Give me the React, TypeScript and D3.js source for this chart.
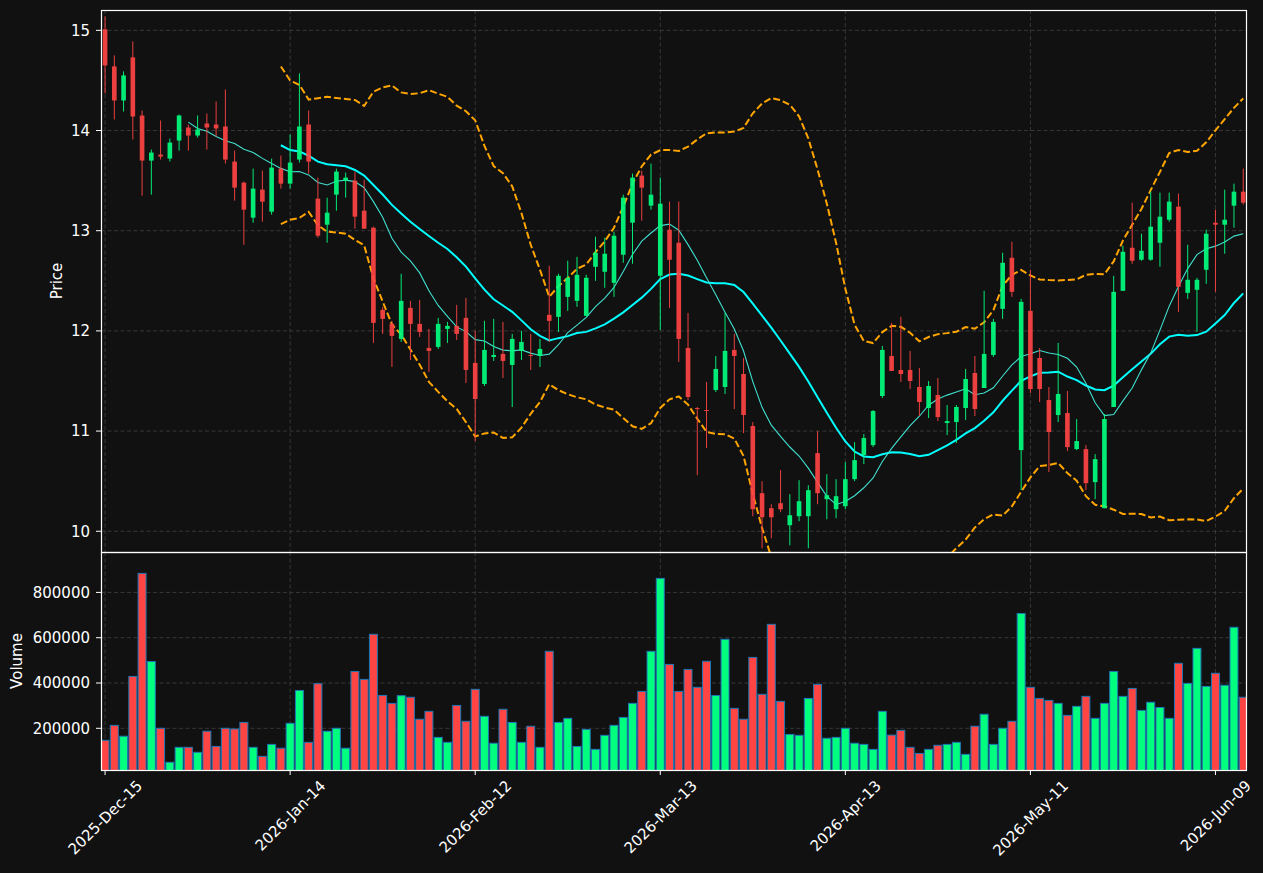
import * as d3 from 'd3';
import React, { useRef, useEffect } from 'react';

const W = 1263;
const H = 873;
const box = { left: 101, right: 1246, top: 10, mid: 552, bottom: 770 };

// OHLC, one entry per trading day
const opens = [
  15.01, 14.64, 14.30, 14.73, 14.15, 13.70, 13.76, 13.72, 13.90, 14.03,
  13.95, 14.07, 14.06, 14.04, 13.69, 13.48, 13.13, 13.41, 13.19, 13.62,
  13.47, 13.71, 14.06, 13.32, 13.06, 13.36, 13.50, 13.50, 13.20, 13.03,
  12.21, 12.07, 11.92, 12.23, 12.07, 11.83, 11.84, 12.02, 12.05, 12.13,
  11.68, 11.47, 11.74, 11.77, 11.66, 11.80, 11.76, 11.75, 12.16, 12.14,
  12.34, 12.30, 12.15, 12.64, 12.59, 12.48, 12.76, 13.08, 13.55, 13.25,
  12.55, 13.01, 12.88, 11.83, 11.23, 11.21, 11.41, 11.44, 11.81, 11.57,
  11.05, 10.38, 10.23, 10.28, 10.06, 10.15, 10.15, 10.78, 10.32, 10.22,
  10.25, 10.52, 10.76, 10.86, 11.35, 11.75, 11.61, 11.61, 11.44, 11.23,
  11.36, 11.08, 11.09, 11.23, 11.58, 11.43, 11.76, 12.22, 12.73, 10.81,
  12.20, 11.73, 11.31, 11.16, 11.18, 10.82, 10.82, 10.49, 10.23, 11.24,
  12.40, 12.83, 12.71, 12.71, 12.88, 13.11, 13.24, 12.38, 12.41, 12.61,
  13.08, 13.06, 13.25, 13.39,
];
const highs = [
  15.14, 14.75, 14.59, 14.89, 14.20, 13.81, 14.10, 13.92, 14.16, 14.06,
  14.15, 14.17, 14.29, 14.41, 13.80, 13.49, 13.62, 13.60, 13.72, 13.75,
  13.96, 14.57, 14.20, 13.53, 13.33, 13.62, 13.58, 13.59, 13.51, 13.04,
  12.24, 12.10, 12.57, 12.30, 12.31, 12.02, 12.13, 12.09, 12.26, 12.33,
  12.00, 12.10, 12.12, 12.09, 11.97, 12.00, 11.97, 11.92, 12.65, 12.57,
  12.70, 12.74, 12.56, 12.94, 12.93, 12.99, 13.36, 13.57, 13.60, 13.67,
  13.53, 13.29, 13.29, 12.18, 11.24, 11.49, 11.75, 12.18, 11.97, 11.73,
  11.09, 10.50, 10.27, 10.61, 10.37, 10.51, 10.46, 11.00, 10.57, 10.52,
  10.69, 10.89, 10.97, 11.21, 11.85, 12.08, 12.14, 11.80, 11.63, 11.50,
  11.53, 11.26, 11.26, 11.62, 11.75, 12.40, 12.12, 12.78, 12.89, 12.32,
  12.61, 11.83, 11.44, 11.88, 11.40, 11.12, 10.86, 10.77, 11.17, 12.55,
  12.85, 13.28, 12.97, 13.39, 13.38, 13.38, 13.37, 12.86, 12.53, 13.01,
  13.21, 13.41, 13.47, 13.62,
];
const lows = [
  14.37, 14.11, 14.19, 13.91, 13.35, 13.36, 13.71, 13.69, 13.80, 13.80,
  13.93, 13.81, 13.94, 13.67, 13.30, 12.86, 13.08, 13.09, 13.16, 13.42,
  13.42, 13.68, 13.57, 12.93, 12.88, 13.20, 13.33, 13.02, 13.02, 11.88,
  11.97, 11.64, 11.89, 11.71, 11.94, 11.59, 11.82, 11.88, 11.91, 11.48,
  10.90, 11.45, 11.70, 11.53, 11.24, 11.71, 11.61, 11.64, 11.89, 11.99,
  12.20, 12.24, 12.15, 12.50, 12.43, 12.34, 12.68, 12.67, 13.10, 13.21,
  12.01, 12.23, 11.69, 11.31, 10.56, 10.83, 11.39, 11.37, 11.22, 10.98,
  10.15, 9.83, 9.93, 10.19, 9.86, 10.10, 9.83, 10.27, 10.12, 10.13,
  10.22, 10.50, 10.67, 10.84, 11.33, 11.60, 11.49, 11.42, 11.15, 11.13,
  11.10, 10.96, 10.88, 11.11, 11.15, 11.43, 11.74, 12.12, 12.34, 10.41,
  11.38, 11.29, 10.59, 11.09, 10.80, 10.81, 10.41, 10.32, 10.23, 11.24,
  12.40, 12.67, 12.70, 12.70, 12.64, 13.09, 12.19, 12.32, 11.99, 12.47,
  12.39, 12.77, 13.03, 13.26,
];
const closes = [
  14.65, 14.30, 14.55, 14.14, 13.70, 13.78, 13.74, 13.88, 14.15, 13.95,
  14.01, 14.03, 14.02, 13.71, 13.43, 13.21, 13.42, 13.29, 13.63, 13.47,
  13.68, 14.04, 13.69, 12.95, 13.18, 13.59, 13.53, 13.14, 13.02, 12.08,
  12.12, 11.95, 12.30, 12.07, 11.99, 11.80, 12.07, 12.05, 11.97, 11.61,
  11.32, 11.81, 11.76, 11.70, 11.92, 11.89, 11.75, 11.82, 12.10, 12.55,
  12.53, 12.56, 12.53, 12.78, 12.77, 12.95, 13.33, 13.53, 13.43, 13.36,
  13.27, 12.71, 11.92, 11.34, 11.22, 11.20, 11.62, 11.80, 11.75, 11.16,
  10.22, 10.14, 10.14, 10.22, 10.16, 10.30, 10.41, 10.38, 10.36, 10.35,
  10.52, 10.71, 10.93, 11.20, 11.81, 11.60, 11.57, 11.50, 11.29, 11.45,
  11.14, 11.10, 11.24, 11.52, 11.22, 11.77, 12.09, 12.68, 12.39, 12.29,
  11.42, 11.42, 10.99, 11.37, 10.84, 10.90, 10.48, 10.72, 11.12, 12.39,
  12.79, 12.70, 12.80, 13.04, 13.14, 13.29, 12.44, 12.51, 12.51, 12.97,
  13.06, 13.11, 13.39, 13.28,
];
const volumes = [
  147000, 213000, 165000, 429000, 884000, 495000, 200000, 50000, 116000, 116000,
  94000, 187000, 120000, 200000, 197000, 226000, 116000, 76000, 129000, 112000,
  222000, 367000, 138000, 397000, 187000, 200000, 112000, 451000, 416000, 615000,
  345000, 310000, 344000, 337000, 240000, 275000, 160000, 138000, 301000, 231000,
  372000, 253000, 134000, 284000, 226000, 138000, 209000, 116000, 540000, 226000,
  244000, 120000, 195000, 107000, 169000, 213000, 248000, 310000, 363000, 540000,
  862000, 482000, 363000, 460000, 381000, 496000, 345000, 593000, 288000, 240000,
  513000, 350000, 659000, 319000, 173000, 169000, 332000, 394000, 156000, 160000,
  200000, 134000, 129000, 107000, 275000, 170000, 191000, 116000, 89000, 107000,
  125000, 129000, 138000, 85000, 209000, 262000, 129000, 200000, 231000, 707000,
  381000, 332000, 323000, 310000, 257000, 297000, 341000, 244000, 310000, 451000,
  341000, 376000, 279000, 315000, 292000, 244000, 487000, 398000, 553000, 385000,
  443000, 390000, 646000, 337000,
];

const tickIdx = [0, 20, 40, 60, 80, 100, 120];
const tickLabels = ['2025-Dec-15', '2026-Jan-14', '2026-Feb-12', '2026-Mar-13', '2026-Apr-13', '2026-May-11', '2026-Jun-09'];
const priceTicks = [10, 11, 12, 13, 14, 15];
const volTicks = [200000, 400000, 600000, 800000];

const UP = '#00ff7f';
const DOWN = '#ff4444';
const FONT = 'DejaVu Sans, sans-serif';
const FS = 15;

// rolling helpers (same as pandas rolling, std with ddof=1)
function rolling(vals: number[], n: number, fn: (w: number[]) => number) {
    return vals.map((_, i) => (i < n - 1 ? null : fn(vals.slice(i - n + 1, i + 1))));
}

function draw(node: SVGSVGElement) {
    const svg = d3.select(node);
    svg.selectAll('*').remove();
    svg.append('rect').attr('width', W).attr('height', H).attr('fill', '#111111');

    const n = closes.length;
    const x = d3.scaleLinear().domain([-0.44, n - 0.7]).range([box.left, box.right]);
    const step = x(1) - x(0);
    const yP = d3.scaleLinear().domain([9.793, 15.203]).range([box.mid, box.top]);
    const yV = d3.scaleLinear().domain([15900, 978400]).range([box.bottom, box.mid]);

    const defs = svg.append('defs');
    defs.append('clipPath').attr('id', 'clipP').append('rect')
        .attr('x', box.left).attr('y', box.top).attr('width', box.right - box.left).attr('height', box.mid - box.top);
    defs.append('clipPath').attr('id', 'clipV').append('rect')
        .attr('x', box.left).attr('y', box.mid).attr('width', box.right - box.left).attr('height', box.bottom - box.mid);

    const grid = svg.append('g').attr('stroke', '#3c3c3c').attr('stroke-width', 0.9).attr('stroke-dasharray', '4,2.5');
    priceTicks.forEach(t => grid.append('line').attr('x1', box.left).attr('x2', box.right).attr('y1', yP(t)).attr('y2', yP(t)));
    volTicks.forEach(t => grid.append('line').attr('x1', box.left).attr('x2', box.right).attr('y1', yV(t)).attr('y2', yV(t)));
    tickIdx.forEach(i => {
        grid.append('line').attr('x1', x(i)).attr('x2', x(i)).attr('y1', box.top).attr('y2', box.mid);
        grid.append('line').attr('x1', x(i)).attr('x2', x(i)).attr('y1', box.mid).attr('y2', box.bottom);
    });

    // indicators
    const sma10 = rolling(closes, 10, w => d3.mean(w) as number);
    const sma20 = rolling(closes, 20, w => d3.mean(w) as number);
    const sd20 = rolling(closes, 20, w => d3.deviation(w) as number);
    const upper = sma20.map((m, i) => (m == null ? null : m + 2 * (sd20[i] as number)));
    const lower = sma20.map((m, i) => (m == null ? null : m - 2 * (sd20[i] as number)));

    const line = d3.line<number | null>()
        .defined(d => d != null)
        .x((_, i) => x(i))
        .y(d => yP(d as number));

    const pg = svg.append('g').attr('clip-path', 'url(#clipP)');
    pg.append('path').attr('d', line(upper)).attr('fill', 'none').attr('stroke', '#ffa500')
        .attr('stroke-width', 2).attr('stroke-dasharray', '7,3');
    pg.append('path').attr('d', line(lower)).attr('fill', 'none').attr('stroke', '#ffa500')
        .attr('stroke-width', 2).attr('stroke-dasharray', '7,3');
    pg.append('path').attr('d', line(sma20)).attr('fill', 'none').attr('stroke', '#00ffff').attr('stroke-width', 2);
    pg.append('path').attr('d', line(sma10)).attr('fill', 'none').attr('stroke', '#40e0d0').attr('stroke-width', 1.1);

    const candles = pg.selectAll('g.c')
        .data(closes.map((c, i) => i))
        .enter()
        .append('g')
        .attr('opacity', 0.92);
    candles.append('line')
        .attr('x1', i => x(i)).attr('x2', i => x(i))
        .attr('y1', i => yP(highs[i])).attr('y2', i => yP(lows[i]))
        .attr('stroke', i => (closes[i] >= opens[i] ? UP : DOWN))
        .attr('stroke-width', 1);
    candles.append('rect')
        .attr('x', i => x(i) - step * 0.25)
        .attr('width', step * 0.5)
        .attr('y', i => yP(Math.max(opens[i], closes[i])))
        .attr('height', i => Math.max(1, Math.abs(yP(opens[i]) - yP(closes[i]))))
        .attr('fill', i => (closes[i] >= opens[i] ? UP : DOWN));

    // volume
    const vg = svg.append('g').attr('clip-path', 'url(#clipV)');
    vg.selectAll('rect')
        .data(volumes)
        .enter()
        .append('rect')
        .attr('x', (_, i) => x(i) - step * 0.43)
        .attr('width', step * 0.86)
        .attr('y', d => yV(d))
        .attr('height', d => box.bottom + 5 - yV(d))
        .attr('fill', (_, i) => (closes[i] >= opens[i] ? UP : DOWN))
        .attr('stroke', '#1f77b4')
        .attr('stroke-width', 1);

    // frames
    const frame = svg.append('g').attr('fill', 'none').attr('stroke', '#ffffff').attr('stroke-width', 1.2);
    frame.append('rect').attr('x', box.left + 0.5).attr('y', box.top + 0.5).attr('width', box.right - box.left).attr('height', box.mid - box.top);
    frame.append('rect').attr('x', box.left + 0.5).attr('y', box.mid + 0.5).attr('width', box.right - box.left).attr('height', box.bottom - box.mid);

    const axes = svg.append('g').attr('font-family', FONT).attr('font-size', FS).attr('fill', '#ffffff');
    priceTicks.forEach(t => {
        axes.append('line').attr('x1', box.left - 5).attr('x2', box.left).attr('y1', yP(t)).attr('y2', yP(t)).attr('stroke', '#fff');
        axes.append('text').attr('x', box.left - 11).attr('y', yP(t)).attr('dy', '0.35em').attr('text-anchor', 'end').text(t);
    });
    volTicks.forEach(t => {
        axes.append('line').attr('x1', box.left - 5).attr('x2', box.left).attr('y1', yV(t)).attr('y2', yV(t)).attr('stroke', '#fff');
        axes.append('text').attr('x', box.left - 11).attr('y', yV(t)).attr('dy', '0.35em').attr('text-anchor', 'end').text(t);
    });
    tickIdx.forEach((idx, k) => {
        axes.append('line').attr('x1', x(idx)).attr('x2', x(idx)).attr('y1', box.bottom).attr('y2', box.bottom + 5).attr('stroke', '#fff');
        const t = axes.append('text').attr('text-anchor', 'end').text(tickLabels[k]);
        const len = (t.node() as SVGTextElement).getComputedTextLength();
        const h = 11;
        const px = x(idx) + 0.3535 * (len + h);
        const py = box.bottom + 9 + 0.707 * h;
        t.attr('transform', 'translate(' + px + ',' + py + ') rotate(-45)');
    });

    axes.append('text')
        .attr('transform', 'translate(57,' + (box.top + box.mid) / 2 + ') rotate(-90)')
        .attr('text-anchor', 'middle').attr('dy', '0.35em').text('Price');
    axes.append('text')
        .attr('transform', 'translate(17,' + (box.mid + box.bottom) / 2 + ') rotate(-90)')
        .attr('text-anchor', 'middle').attr('dy', '0.35em').text('Volume');
}

export default function App() {
    const ref = useRef<SVGSVGElement>(null);

    useEffect(() => {
        if (ref.current) draw(ref.current);
    }, []);

    return (
        <svg ref={ref} width={W} height={H} style={{ position: 'absolute', left: 0, top: 0, display: 'block' }} />
    );
}
